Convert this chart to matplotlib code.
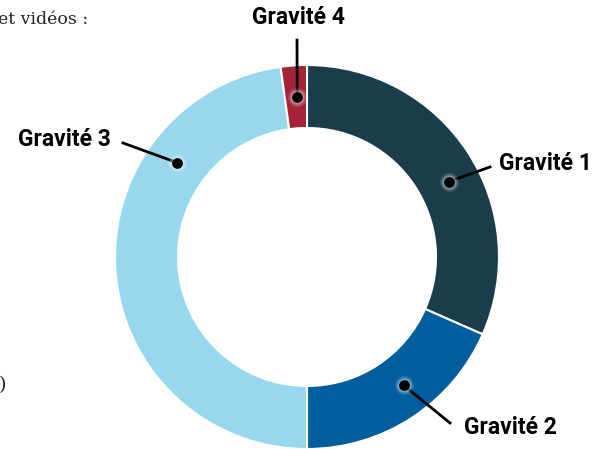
import numpy as np
import matplotlib
matplotlib.use("Agg")
import matplotlib.pyplot as plt

# share of each severity level (percent)
labels = ["Gravité 1", "Gravité 2", "Gravité 3", "Gravité 4"]
values = [31.6, 18.4, 47.8, 2.2]
colors = ["#1b3c4a", "#005e9f", "#97d8ee", "#a52339"]

W, H = 611, 449
CX, CY = 307, H - 257
R_OUT, R_IN = 192, 129
R_MID = (R_OUT + R_IN) / 2

# where the dot sits on the ring (deg clockwise from top), and label anchor
dot_angle = [62, 143, 306, 356.5]
line_end = [(490, 282), (450, 26), (123, 306), (297, 409)]
text_pos = [(499, 286, "left"), (464, 22, "left"), (111, 309, "right"), (298, 431, "center")]

fig = plt.figure(figsize=(W / 100, H / 100), dpi=100)
ax = fig.add_axes([0, 0, 1, 1])

ax.pie(values, colors=colors, startangle=90, counterclock=False,
       radius=R_OUT, center=(CX, CY), frame=True,
       wedgeprops=dict(width=R_OUT - R_IN, edgecolor="white", linewidth=1.5))

for i, lab in enumerate(labels):
    a = np.deg2rad(dot_angle[i])
    dx, dy = CX + R_MID * np.sin(a), CY + R_MID * np.cos(a)
    ex, ey = line_end[i]
    ax.plot([dx, ex], [dy, ey], color="black", lw=2, zorder=4)
    # soft white glow round the dot
    for s, al in [(190, 0.12), (130, 0.18), (95, 0.25)]:
        ax.scatter([dx], [dy], s=s, color="white", alpha=al, zorder=4, linewidths=0)
    ax.scatter([dx], [dy], s=60, color="black", zorder=5, linewidths=0)
    tx, ty, ha = text_pos[i]
    ax.text(tx, ty, lab, ha=ha, va="center", fontsize=16.5, fontweight="bold",
            family="Roboto", color="black")

# bits of the surrounding page text
ax.text(-2, 430, "et vidéos :", fontsize=12.5, family="DejaVu Serif",
        ha="left", va="center", color="#222222")
ax.text(-1, 64, ")", fontsize=14, family="DejaVu Serif",
        ha="left", va="center", color="#222222")

ax.set_xlim(0, W)
ax.set_ylim(0, H)
ax.set_aspect("equal")
ax.axis("off")

fig.savefig("out.png", dpi=100)
